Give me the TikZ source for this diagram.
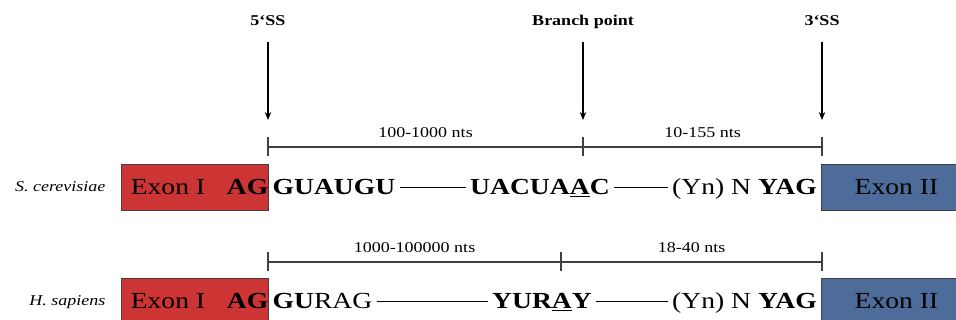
\documentclass[tikz,border=0pt]{standalone}
\usepackage{fontspec}
\setmainfont{Liberation Serif}[FakeStretch=1.2]
\usetikzlibrary{arrows.meta,positioning}
\definecolor{exonred}{RGB}{205,52,52}
\definecolor{exonblue}{RGB}{77,108,153}
\definecolor{bargray}{RGB}{64,64,64}
\tikzset{
  seq/.style={font=\fontsize{23}{23}\selectfont, inner sep=0pt, text height=15pt, text depth=0pt},
  toplbl/.style={font=\fontsize{15}{15}\selectfont\bfseries, inner sep=0pt, text depth=0pt, anchor=south},
  scalelbl/.style={font=\fontsize{15}{15}\selectfont, inner sep=0pt, text depth=0pt},
  species/.style={font=\fontsize{15}{15}\selectfont\itshape, inner sep=0pt, text depth=0pt},
  exonbox/.style={draw=black!75, line width=0.9pt, minimum height=46pt, inner sep=0pt, font=\fontsize{23}{23}\selectfont},
  pointer/.style={-{Stealth[length=8pt,width=6.5pt]}, line width=1.1pt},
  scalebar/.style={draw=bargray, line width=1.4pt},
  gap/.style={line width=0.9pt, shorten <=4pt, shorten >=4pt}
}
\begin{document}
\begin{tikzpicture}[x=1pt,y=-1pt]
\useasboundingbox (0,0) rectangle (956,320);
% splice sites
\coordinate (ta1) at (268,147);
\coordinate (ta2) at (583,147);
\coordinate (ta3) at (822,147);
\coordinate (tb1) at (268,262);
\coordinate (tb2) at (561,262);
\coordinate (tb3) at (822,262);
\node[toplbl] (ss5) at ([yshift=121pt]ta1) {5‘SS};
\node[toplbl] (bp) at ([yshift=121pt]ta2) {Branch point};
\node[toplbl] (ss3) at ([yshift=121pt]ta3) {3‘SS};
\draw[pointer, shorten <=16pt] (ss5) -- ([yshift=27pt]ta1);
\draw[pointer, shorten <=16pt] (bp) -- ([yshift=27pt]ta2);
\draw[pointer, shorten <=16pt] (ss3) -- ([yshift=27pt]ta3);
% distances
\draw[scalebar] (ta1) -- node[scalelbl, above=9pt] (da1) {100-1000 nts} (ta2)
  -- node[scalelbl, above=9pt] (da2) {10-155 nts} (ta3);
\draw[scalebar] (tb1) -- node[scalelbl, above=9pt] (db1) {1000-100000 nts} (tb2)
  -- node[scalelbl, above=9pt] (db2) {18-40 nts} (tb3);
\foreach \t in {ta1,ta2,ta3,tb1,tb2,tb3}
  \draw[scalebar] ([yshift=9.5pt]\t) -- ([yshift=-9.5pt]\t);
% S. cerevisiae
\node[exonbox, fill=exonred, minimum width=147pt] (exa1) at (194.5,187) {};
\node[exonbox, fill=exonblue, minimum width=150pt, anchor=west] (exa2) at (821,187) {Exon II};
\node[species, left=15pt of exa1] (sc) {S. cerevisiae};
\node[seq] (exa1txt) at (168,187) {Exon I};
\node[seq, anchor=east] (aga) at (exa1.east) {\bfseries AG};
\node[seq, anchor=west] (dona) at ([xshift=4pt]exa1.east) {\bfseries GUAUGU};
\node[seq, anchor=west] (bpa) at (470,187) {\bfseries UACUA\underline{A}C};
\node[seq, anchor=east] (acca) at ([xshift=-4pt]exa2.west) {(Yn) N \textbf{YAG}};
\draw[gap] (dona) -- (bpa);
\draw[gap] (bpa) -- (acca);
% H. sapiens
\node[exonbox, fill=exonred, minimum width=147pt] (exb1) at (194.5,301) {};
\node[exonbox, fill=exonblue, minimum width=150pt, anchor=west] (exb2) at (821,301) {Exon II};
\node[species, left=15pt of exb1] (hs) {H. sapiens};
\node[seq] (exb1txt) at (168,301) {Exon I};
\node[seq, anchor=east] (agb) at (exb1.east) {\bfseries AG};
\node[seq, anchor=west] (donb) at ([xshift=4pt]exb1.east) {\textbf{GU}RAG};
\node[seq, anchor=west] (bpb) at (492,301) {\bfseries YUR\underline{A}Y};
\node[seq, anchor=east] (accb) at ([xshift=-4pt]exb2.west) {(Yn) N \textbf{YAG}};
\draw[gap] (donb) -- (bpb);
\draw[gap] (bpb) -- (accb);
\end{tikzpicture}
\end{document}
